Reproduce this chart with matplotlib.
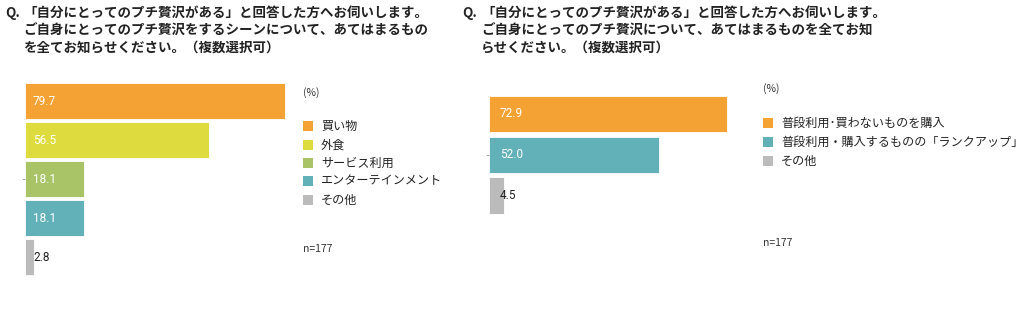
import matplotlib
matplotlib.use("Agg")
from matplotlib import pyplot as plt
from matplotlib.patches import Rectangle

plt.rcParams['font.family'] = ['Noto Sans CJK JP', 'DejaVu Sans']

# left chart data
left_labels = ['買い物', '外食', 'サービス利用', 'エンターテインメント', 'その他']
left_values = [79.7, 56.5, 18.1, 18.1, 2.8]
left_colors = ['#f4a233', '#dedb3e', '#a8c466', '#62b1b9', '#bbbbbb']
left_title = ['「自分にとってのプチ贅沢がある」と回答した方へお伺いします。',
              'ご自身にとってのプチ贅沢をするシーンについて、あてはまるもの',
              'を全てお知らせください。（複数選択可）']

# right chart data
right_labels = ['普段利用･買わないものを購入', '普段利用・購入するものの「ランクアップ」', 'その他']
right_values = [72.9, 52.0, 4.5]
right_colors = ['#f4a233', '#62b1b9', '#bbbbbb']
right_title = ['「自分にとってのプチ贅沢がある」と回答した方へお伺いします。',
               'ご自身にとってのプチ贅沢について、あてはまるものを全てお知',
               'らせください。（複数選択可）']

n_text = 'n=177'

W, H = 1024, 319
fig = plt.figure(figsize=(W / 100, H / 100), dpi=100)


def fx(x):
    return x / W


def fy(y):
    return 1 - y / H


def draw_chart(x0, top, bottom, labels, values, colors, bar_h, lab_off, tick_idx):
    ax = fig.add_axes([fx(x0), fy(bottom), 326 / W, (bottom - top) / H])
    pos = list(range(len(values)))
    ax.barh(pos, values, height=bar_h, color=colors, edgecolor='white', linewidth=0.6)
    ax.set_xlim(0, 100)
    ax.set_ylim(len(values) - 0.5, -0.5)
    for s in ax.spines.values():
        s.set_visible(False)
    ax.set_xticks([])
    ax.set_yticks([tick_idx])
    ax.set_yticklabels([''])
    ax.tick_params(axis='y', length=2, width=0.6, color='#999999')
    for i, v in enumerate(values):
        c = 'white' if v > 10 else '#222222'
        ax.annotate('%.1f' % v, xy=(0, i), xytext=(lab_off, 0), textcoords='offset pixels',
                    va='center', ha='left', color=c, fontsize=8.5, family=['Roboto', 'DejaVu Sans'])
    return ax


def draw_title(x, indent, lines):
    fig.text(fx(x), fy(13), 'Q.', fontsize=9.7, fontweight='bold', va='center', ha='left', color='#222222')
    ys = [13, 31, 48]
    for line, y in zip(lines, ys):
        fig.text(fx(x + indent), fy(y), line, fontsize=9.7, fontweight='bold', va='center', ha='left', color='#222222')


def draw_legend(x, y_pct, rows, labels, colors, y_n):
    fig.text(fx(x), fy(y_pct), '(%)', fontsize=7.5, va='center', ha='left', color='#333333')
    for y, lab, c in zip(rows, labels, colors):
        fig.add_artist(Rectangle((fx(x), fy(y + 5)), 10 / W, 10 / H, transform=fig.transFigure,
                                 facecolor=c, edgecolor='none'))
        fig.text(fx(x + 18), fy(y), lab, fontsize=8.7, va='center', ha='left', color='#222222')
    fig.text(fx(x), fy(y_n), n_text, fontsize=7.5, va='center', ha='left', color='#333333')


draw_title(5, 18, left_title)
draw_title(462, 19, right_title)

draw_chart(25, 81.5, 277, left_labels, left_values, left_colors, 0.92, 8, 2)
draw_chart(489, 93.5, 216, right_labels, right_values, right_colors, 0.89, 11, 1)

draw_legend(303, 93, [126, 145, 163, 181, 200], left_labels, left_colors, 249)
draw_legend(763, 89, [123, 142, 161], right_labels, right_colors, 243)

fig.savefig('out.png', dpi=100)
